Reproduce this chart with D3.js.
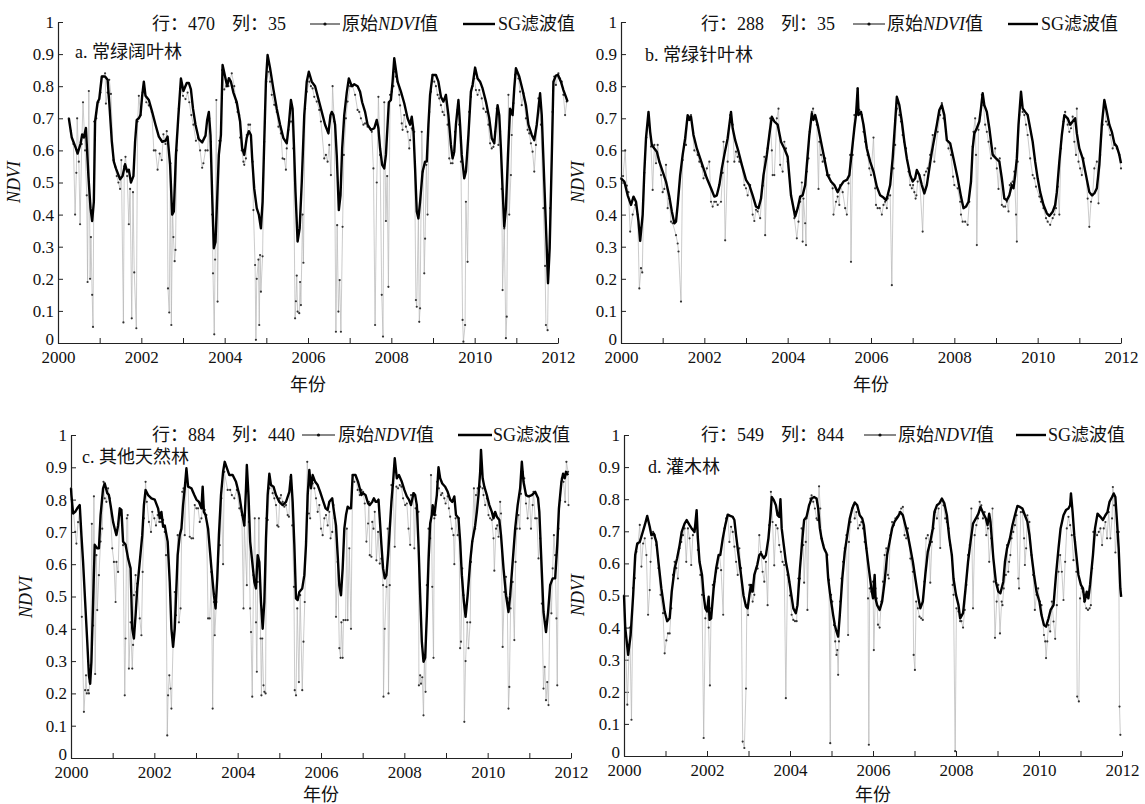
<!DOCTYPE html>
<html><head><meta charset="utf-8">
<script src="https://cdn.jsdelivr.net/npm/d3@7"></script>
<style>
body{margin:0;background:#fff}
text{font-family:"Liberation Serif","Times New Roman","Noto Sans CJK SC",serif;fill:#111}
</style>
</head><body>
<svg id="chart" width="1145" height="804"></svg>
<script>
// ---------------- data ----------------
const yearTicks = [2000,2001,2002,2003,2004,2005,2006,2007,2008,2009,2010,2011,2012];
const yearLabels = [2000,2002,2004,2006,2008,2010,2012];
const ndviTicks = [0,0.1,0.2,0.3,0.4,0.5,0.6,0.7,0.8,0.9,1];
const panelTitles = ["a. 常绿阔叶林","b. 常绿针叶林","c. 其他天然林","d. 灌木林"];
const rowIds = ["470","288","884","549"];
const colIds = ["35","35","440","844"];
const rawName = ["原始","NDVI","值"];
const sgName = "SG滤波值";
const xTitle = "年份";
const yTitle = "NDVI";

const rawA = [[2000.26,.70],[2000.31,.66],[2000.37,.62],[2000.41,.40],[2000.44,.53],[2000.46,.70],[2000.50,.565],[2000.53,.37],[2000.57,.62],[2000.60,.75],[2000.65,.60],[2000.69,.46],[2000.71,.19],[2000.74,.785],[2000.77,.20],[2000.79,.33],[2000.82,.15],[2000.84,.05],[2000.87,.69],[2000.92,.70],[2000.97,.75],[2001.02,.78],[2001.07,.83],[2001.13,.84],[2001.15,.746],[2001.19,.78],[2001.23,.82],[2001.27,.776],[2001.33,.57],[2001.37,.55],[2001.41,.52],[2001.45,.50],[2001.49,.48],[2001.52,.57],[2001.57,.064],[2001.59,.55],[2001.62,.58],[2001.66,.52],[2001.70,.37],[2001.73,.48],[2001.77,.077],[2001.80,.47],[2001.83,.22],[2001.88,.046],[2001.91,.69],[2001.94,.77],[2001.98,.71],[2002.03,.78],[2002.07,.79],[2002.12,.75],[2002.18,.74],[2002.25,.72],[2002.30,.60],[2002.34,.60],[2002.39,.54],[2002.44,.59],[2002.49,.57],[2002.53,.65],[2002.58,.62],[2002.61,.66],[2002.64,.17],[2002.67,.095],[2002.70,.56],[2002.72,.056],[2002.75,.42],[2002.77,.33],[2002.80,.255],[2002.82,.29],[2002.85,.60],[2002.90,.73],[2002.95,.80],[2003.00,.77],[2003.06,.76],[2003.11,.78],[2003.15,.75],[2003.20,.71],[2003.25,.68],[2003.31,.63],[2003.36,.64],[2003.41,.60],[2003.46,.546],[2003.49,.56],[2003.54,.60],[2003.59,.60],[2003.63,.70],[2003.67,.627],[2003.70,.40],[2003.72,.217],[2003.75,.027],[2003.77,.26],[2003.80,.757],[2003.83,.129],[2003.87,.63],[2003.90,.63],[2003.94,.85],[2003.99,.79],[2004.04,.80],[2004.09,.80],[2004.17,.84],[2004.23,.80],[2004.27,.75],[2004.31,.72],[2004.35,.71],[2004.37,.64],[2004.41,.60],[2004.45,.565],[2004.47,.555],[2004.51,.575],[2004.53,.648],[2004.57,.68],[2004.61,.68],[2004.67,.565],[2004.69,.414],[2004.73,.243],[2004.75,.01],[2004.77,.20],[2004.81,.26],[2004.83,.056],[2004.85,.274],[2004.87,.16],[2004.91,.27],[2004.95,.627],[2005.00,.814],[2005.05,.845],[2005.09,.814],[2005.13,.773],[2005.19,.742],[2005.25,.72],[2005.29,.674],[2005.35,.653],[2005.39,.575],[2005.43,.573],[2005.47,.54],[2005.49,.606],[2005.53,.664],[2005.58,.69],[2005.61,.69],[2005.65,.606],[2005.69,.077],[2005.71,.13],[2005.73,.21],[2005.75,.098],[2005.79,.093],[2005.81,.19],[2005.83,.118],[2005.87,.40],[2005.89,.25],[2005.93,.73],[2005.97,.783],[2006.03,.814],[2006.07,.80],[2006.11,.793],[2006.15,.767],[2006.21,.752],[2006.27,.726],[2006.31,.69],[2006.39,.575],[2006.43,.586],[2006.47,.565],[2006.51,.617],[2006.55,.523],[2006.59,.80],[2006.63,.69],[2006.67,.035],[2006.70,.367],[2006.73,.098],[2006.76,.196],[2006.79,.035],[2006.83,.362],[2006.86,.586],[2006.91,.70],[2006.95,.752],[2007.01,.80],[2007.07,.80],[2007.13,.773],[2007.19,.726],[2007.23,.72],[2007.27,.70],[2007.33,.68],[2007.37,.684],[2007.43,.674],[2007.49,.669],[2007.53,.658],[2007.57,.544],[2007.61,.056],[2007.65,.50],[2007.69,.767],[2007.73,.586],[2007.77,.15],[2007.80,.02],[2007.83,.75],[2007.87,.38],[2007.90,.52],[2007.93,.175],[2007.97,.773],[2008.01,.783],[2008.05,.80],[2008.09,.845],[2008.11,.83],[2008.15,.814],[2008.19,.773],[2008.21,.74],[2008.25,.684],[2008.27,.664],[2008.31,.71],[2008.35,.674],[2008.39,.658],[2008.43,.606],[2008.45,.632],[2008.49,.669],[2008.51,.664],[2008.55,.658],[2008.59,.134],[2008.61,.113],[2008.65,.40],[2008.67,.066],[2008.69,.108],[2008.73,.658],[2008.76,.534],[2008.79,.217],[2008.81,.325],[2008.84,.555],[2008.87,.40],[2008.91,.72],[2008.95,.783],[2008.99,.835],[2009.03,.814],[2009.07,.80],[2009.11,.773],[2009.15,.762],[2009.19,.741],[2009.23,.72],[2009.27,.71],[2009.31,.773],[2009.35,.68],[2009.39,.575],[2009.43,.56],[2009.47,.56],[2009.49,.586],[2009.53,.658],[2009.59,.726],[2009.63,.68],[2009.67,.565],[2009.71,.072],[2009.73,.004],[2009.77,.056],[2009.79,.44],[2009.83,.253],[2009.87,.72],[2009.91,.767],[2009.95,.80],[2009.99,.824],[2010.03,.788],[2010.07,.773],[2010.11,.788],[2010.17,.762],[2010.21,.73],[2010.27,.72],[2010.33,.68],[2010.37,.622],[2010.41,.606],[2010.45,.611],[2010.49,.658],[2010.53,.73],[2010.57,.617],[2010.61,.66],[2010.65,.48],[2010.67,.165],[2010.71,.357],[2010.75,.015],[2010.77,.082],[2010.81,.773],[2010.83,.40],[2010.87,.523],[2010.89,.648],[2010.93,.747],[2010.97,.835],[2011.01,.84],[2011.05,.824],[2011.09,.783],[2011.13,.741],[2011.17,.778],[2011.23,.70],[2011.27,.664],[2011.31,.653],[2011.35,.622],[2011.39,.596],[2011.43,.534],[2011.47,.617],[2011.53,.762],[2011.59,.68],[2011.65,.42],[2011.69,.24],[2011.71,.056],[2011.75,.04],[2011.77,.238],[2011.81,.42],[2011.87,.72],[2011.91,.83],[2011.95,.804],[2012.01,.84],[2012.05,.824],[2012.09,.814],[2012.13,.773],[2012.17,.71],[2012.21,.752]];

const sgA = [[2000.26,.70],[2000.33,.64],[2000.42,.61],[2000.47,.59],[2000.54,.62],[2000.58,.65],[2000.62,.64],[2000.67,.67],[2000.73,.52],[2000.78,.42],[2000.82,.38],[2000.86,.44],[2000.89,.69],[2000.95,.75],[2000.99,.76],[2001.05,.83],[2001.13,.83],[2001.19,.82],[2001.23,.75],[2001.29,.63],[2001.34,.565],[2001.39,.544],[2001.49,.51],[2001.55,.52],[2001.61,.557],[2001.66,.534],[2001.70,.54],[2001.75,.50],[2001.81,.52],[2001.85,.627],[2001.89,.695],[2001.94,.70],[2001.98,.71],[2002.02,.77],[2002.06,.814],[2002.10,.77],[2002.18,.757],[2002.26,.72],[2002.34,.68],[2002.42,.643],[2002.50,.627],[2002.58,.63],[2002.63,.643],[2002.69,.555],[2002.74,.40],[2002.78,.41],[2002.83,.586],[2002.89,.71],[2002.95,.824],[2003.01,.785],[2003.09,.81],[2003.14,.81],[2003.19,.79],[2003.24,.73],[2003.30,.68],[2003.38,.635],[2003.46,.625],[2003.54,.646],[2003.58,.695],[2003.62,.72],[2003.66,.648],[2003.70,.46],[2003.74,.295],[2003.78,.315],[2003.82,.45],[2003.86,.586],[2003.91,.648],[2003.95,.866],[2004.01,.83],[2004.06,.80],[2004.10,.825],[2004.15,.814],[2004.21,.78],[2004.29,.75],[2004.37,.69],[2004.42,.606],[2004.47,.586],[2004.53,.64],[2004.58,.66],[2004.63,.648],[2004.66,.575],[2004.71,.48],[2004.77,.42],[2004.82,.40],[2004.87,.357],[2004.91,.44],[2004.95,.627],[2004.99,.814],[2005.03,.897],[2005.09,.856],[2005.17,.79],[2005.25,.73],[2005.33,.68],[2005.41,.638],[2005.49,.622],[2005.54,.68],[2005.59,.757],[2005.63,.73],[2005.66,.627],[2005.70,.47],[2005.75,.316],[2005.80,.357],[2005.85,.50],[2005.91,.71],[2005.97,.814],[2006.02,.845],[2006.09,.814],[2006.17,.80],[2006.25,.76],[2006.33,.72],[2006.41,.68],[2006.49,.653],[2006.54,.71],[2006.57,.72],[2006.61,.71],[2006.65,.68],[2006.69,.585],[2006.74,.414],[2006.78,.46],[2006.82,.606],[2006.87,.71],[2006.93,.78],[2006.98,.824],[2007.05,.80],[2007.11,.806],[2007.19,.80],[2007.25,.783],[2007.30,.75],[2007.37,.72],[2007.43,.68],[2007.51,.664],[2007.59,.669],[2007.65,.695],[2007.69,.669],[2007.73,.606],[2007.78,.555],[2007.83,.544],[2007.87,.586],[2007.91,.68],[2007.94,.75],[2007.99,.757],[2008.03,.814],[2008.07,.887],[2008.15,.814],[2008.23,.783],[2008.31,.747],[2008.39,.70],[2008.45,.68],[2008.49,.705],[2008.53,.664],[2008.57,.544],[2008.61,.41],[2008.65,.388],[2008.69,.44],[2008.75,.534],[2008.81,.565],[2008.85,.565],[2008.89,.68],[2008.93,.773],[2008.99,.835],[2009.07,.835],[2009.13,.814],[2009.19,.767],[2009.25,.752],[2009.31,.773],[2009.37,.71],[2009.43,.617],[2009.47,.575],[2009.51,.596],[2009.55,.68],[2009.61,.757],[2009.65,.68],[2009.69,.586],[2009.75,.513],[2009.79,.534],[2009.85,.648],[2009.91,.783],[2009.95,.804],[2010.01,.858],[2010.07,.824],[2010.13,.814],[2010.19,.793],[2010.27,.752],[2010.35,.70],[2010.41,.638],[2010.47,.622],[2010.51,.68],[2010.55,.741],[2010.59,.71],[2010.63,.606],[2010.67,.48],[2010.71,.362],[2010.75,.42],[2010.80,.586],[2010.85,.73],[2010.91,.71],[2010.95,.793],[2010.99,.856],[2011.07,.83],[2011.15,.788],[2011.23,.741],[2011.29,.68],[2011.37,.648],[2011.43,.632],[2011.49,.68],[2011.57,.778],[2011.61,.71],[2011.67,.503],[2011.73,.295],[2011.76,.186],[2011.80,.295],[2011.85,.575],[2011.89,.814],[2011.95,.833],[2012.00,.835],[2012.07,.814],[2012.13,.788],[2012.19,.767],[2012.23,.752]];

const rawB = [[2000.00,.513],[2000.05,.52],[2000.10,.60],[2000.14,.49],[2000.18,.47],[2000.22,.347],[2000.28,.40],[2000.34,.43],[2000.40,.40],[2000.44,.17],[2000.48,.233],[2000.51,.22],[2000.56,.53],[2000.61,.64],[2000.66,.70],[2000.72,.612],[2000.76,.477],[2000.80,.617],[2000.84,.56],[2000.88,.617],[2000.92,.565],[2000.96,.523],[2001.00,.47],[2001.04,.48],[2001.08,.555],[2001.12,.42],[2001.16,.45],[2001.20,.378],[2001.24,.373],[2001.32,.336],[2001.36,.31],[2001.38,.285],[2001.44,.129],[2001.48,.57],[2001.52,.62],[2001.56,.617],[2001.60,.70],[2001.64,.705],[2001.68,.71],[2001.76,.60],[2001.84,.586],[2001.88,.565],[2001.94,.55],[2001.98,.513],[2002.02,.523],[2002.06,.544],[2002.12,.565],[2002.16,.44],[2002.20,.425],[2002.24,.44],[2002.28,.44],[2002.32,.43],[2002.40,.44],[2002.44,.53],[2002.46,.627],[2002.50,.32],[2002.56,.565],[2002.62,.71],[2002.68,.68],[2002.72,.565],[2002.76,.596],[2002.80,.58],[2002.84,.565],[2002.90,.555],[2002.96,.492],[2003.00,.482],[2003.04,.46],[2003.10,.492],[2003.16,.40],[2003.20,.38],[2003.24,.415],[2003.28,.41],[2003.34,.389],[2003.40,.49],[2003.44,.58],[2003.46,.336],[2003.52,.606],[2003.58,.70],[2003.62,.60],[2003.64,.523],[2003.68,.523],[2003.74,.70],[2003.78,.73],[2003.82,.555],[2003.88,.534],[2003.92,.627],[2003.96,.606],[2004.00,.565],[2004.08,.46],[2004.16,.389],[2004.22,.326],[2004.26,.378],[2004.30,.44],[2004.34,.50],[2004.36,.316],[2004.38,.45],[2004.42,.373],[2004.44,.305],[2004.46,.534],[2004.50,.575],[2004.53,.658],[2004.58,.72],[2004.61,.73],[2004.66,.70],[2004.70,.68],[2004.74,.48],[2004.76,.627],[2004.80,.586],[2004.84,.565],[2004.90,.575],[2004.94,.523],[2005.00,.523],[2005.04,.503],[2005.08,.482],[2005.10,.40],[2005.16,.44],[2005.20,.456],[2005.24,.43],[2005.26,.492],[2005.32,.47],[2005.38,.42],[2005.42,.40],[2005.46,.497],[2005.50,.586],[2005.52,.253],[2005.56,.586],[2005.60,.71],[2005.64,.715],[2005.68,.793],[2005.72,.726],[2005.78,.71],[2005.82,.658],[2005.86,.627],[2005.92,.586],[2005.96,.544],[2006.00,.523],[2006.06,.64],[2006.10,.482],[2006.12,.43],[2006.16,.42],[2006.21,.42],[2006.26,.40],[2006.30,.43],[2006.34,.44],[2006.38,.42],[2006.40,.45],[2006.46,.46],[2006.50,.18],[2006.54,.544],[2006.58,.617],[2006.62,.73],[2006.68,.71],[2006.72,.69],[2006.76,.648],[2006.80,.627],[2006.84,.606],[2006.90,.534],[2006.94,.492],[2006.98,.482],[2007.01,.492],[2007.04,.47],[2007.07,.45],[2007.09,.46],[2007.12,.503],[2007.16,.523],[2007.24,.347],[2007.28,.523],[2007.32,.534],[2007.36,.544],[2007.42,.586],[2007.48,.648],[2007.52,.565],[2007.60,.658],[2007.66,.71],[2007.70,.747],[2007.74,.70],[2007.80,.658],[2007.86,.606],[2007.92,.586],[2007.97,.518],[2008.00,.492],[2008.08,.482],[2008.14,.44],[2008.16,.40],[2008.20,.378],[2008.26,.378],[2008.32,.368],[2008.36,.44],[2008.40,.503],[2008.44,.612],[2008.46,.658],[2008.50,.70],[2008.52,.586],[2008.54,.305],[2008.58,.664],[2008.62,.71],[2008.66,.773],[2008.70,.741],[2008.74,.68],[2008.78,.658],[2008.82,.627],[2008.88,.575],[2008.94,.586],[2008.98,.606],[2009.02,.544],[2009.06,.48],[2009.09,.575],[2009.14,.43],[2009.18,.425],[2009.22,.425],[2009.26,.44],[2009.30,.41],[2009.33,.492],[2009.36,.497],[2009.40,.503],[2009.44,.534],[2009.48,.40],[2009.50,.316],[2009.52,.565],[2009.56,.71],[2009.60,.773],[2009.64,.72],[2009.68,.71],[2009.72,.68],[2009.76,.648],[2009.82,.575],[2009.88,.523],[2009.92,.513],[2009.96,.487],[2010.04,.456],[2010.08,.44],[2010.14,.42],[2010.20,.389],[2010.24,.378],[2010.30,.368],[2010.36,.389],[2010.40,.40],[2010.44,.42],[2010.48,.487],[2010.52,.40],[2010.56,.606],[2010.62,.69],[2010.66,.72],[2010.72,.68],[2010.76,.658],[2010.80,.669],[2010.84,.705],[2010.88,.627],[2010.92,.586],[2010.94,.73],[2010.98,.565],[2011.02,.544],[2011.06,.523],[2011.10,.575],[2011.16,.523],[2011.20,.45],[2011.24,.362],[2011.28,.44],[2011.32,.46],[2011.36,.544],[2011.42,.565],[2011.46,.435],[2011.50,.586],[2011.56,.68],[2011.60,.752],[2011.64,.69],[2011.68,.68],[2011.74,.648],[2011.80,.606],[2011.84,.617],[2011.90,.606],[2011.96,.586],[2012.00,.544]];

const sgB = [[2000.00,.513],[2000.08,.503],[2000.16,.46],[2000.24,.43],[2000.30,.456],[2000.36,.44],[2000.42,.378],[2000.46,.318],[2000.52,.40],[2000.56,.534],[2000.60,.638],[2000.66,.72],[2000.70,.658],[2000.74,.617],[2000.80,.606],[2000.86,.596],[2000.92,.565],[2001.00,.534],[2001.08,.503],[2001.16,.456],[2001.22,.41],[2001.28,.373],[2001.32,.378],[2001.36,.43],[2001.42,.523],[2001.48,.586],[2001.54,.638],[2001.60,.71],[2001.64,.695],[2001.68,.705],[2001.74,.648],[2001.82,.606],[2001.90,.575],[2001.98,.544],[2002.06,.513],[2002.16,.482],[2002.24,.456],[2002.30,.46],[2002.36,.492],[2002.42,.544],[2002.48,.586],[2002.56,.638],[2002.64,.72],[2002.68,.669],[2002.74,.632],[2002.82,.596],[2002.90,.555],[2003.00,.508],[2003.08,.492],[2003.16,.46],[2003.24,.425],[2003.30,.42],[2003.36,.45],[2003.42,.523],[2003.50,.586],[2003.56,.648],[2003.62,.705],[2003.68,.69],[2003.76,.68],[2003.84,.627],[2003.92,.606],[2004.00,.58],[2004.08,.46],[2004.18,.394],[2004.24,.42],[2004.30,.456],[2004.36,.46],[2004.42,.492],[2004.46,.555],[2004.52,.648],[2004.58,.715],[2004.62,.695],[2004.66,.71],[2004.72,.68],[2004.80,.627],[2004.88,.575],[2004.96,.523],[2005.04,.503],[2005.12,.492],[2005.20,.47],[2005.26,.487],[2005.34,.503],[2005.42,.508],[2005.48,.523],[2005.54,.596],[2005.60,.669],[2005.64,.71],[2005.68,.793],[2005.70,.71],[2005.76,.72],[2005.82,.68],[2005.90,.606],[2005.98,.565],[2006.06,.534],[2006.14,.487],[2006.22,.46],[2006.30,.453],[2006.36,.445],[2006.40,.46],[2006.46,.492],[2006.52,.575],[2006.58,.69],[2006.62,.767],[2006.68,.741],[2006.74,.69],[2006.80,.627],[2006.86,.575],[2006.94,.523],[2007.00,.503],[2007.06,.513],[2007.10,.539],[2007.16,.523],[2007.22,.492],[2007.28,.466],[2007.34,.492],[2007.40,.544],[2007.46,.596],[2007.52,.638],[2007.58,.68],[2007.64,.726],[2007.70,.741],[2007.76,.71],[2007.82,.632],[2007.90,.622],[2007.98,.575],[2008.08,.513],[2008.16,.456],[2008.22,.42],[2008.28,.425],[2008.34,.44],[2008.40,.503],[2008.44,.606],[2008.48,.653],[2008.54,.669],[2008.60,.69],[2008.64,.731],[2008.68,.778],[2008.72,.741],[2008.78,.72],[2008.84,.669],[2008.92,.586],[2009.00,.575],[2009.08,.565],[2009.14,.513],[2009.20,.45],[2009.26,.445],[2009.32,.46],[2009.38,.492],[2009.42,.482],[2009.46,.523],[2009.50,.575],[2009.54,.68],[2009.60,.783],[2009.64,.731],[2009.70,.72],[2009.76,.71],[2009.82,.669],[2009.88,.627],[2009.94,.565],[2010.00,.513],[2010.06,.47],[2010.14,.43],[2010.22,.404],[2010.28,.396],[2010.36,.409],[2010.42,.43],[2010.46,.47],[2010.52,.565],[2010.58,.648],[2010.64,.71],[2010.72,.70],[2010.78,.68],[2010.84,.69],[2010.90,.70],[2010.94,.653],[2011.00,.606],[2011.08,.575],[2011.16,.523],[2011.24,.47],[2011.30,.46],[2011.36,.466],[2011.42,.482],[2011.48,.555],[2011.54,.68],[2011.60,.757],[2011.66,.72],[2011.72,.68],[2011.78,.658],[2011.84,.622],[2011.90,.612],[2011.96,.586],[2012.00,.56]];

const rawC = [[2000.00,.835],[2000.02,.80],[2000.06,.762],[2000.10,.70],[2000.13,.664],[2000.17,.73],[2000.21,.773],[2000.26,.437],[2000.31,.143],[2000.34,.21],[2000.36,.256],[2000.38,.20],[2000.41,.21],[2000.43,.20],[2000.45,.235],[2000.47,.287],[2000.50,.725],[2000.53,.41],[2000.55,.81],[2000.58,.26],[2000.61,.628],[2000.63,.458],[2000.67,.566],[2000.71,.67],[2000.75,.71],[2000.78,.855],[2000.81,.804],[2000.85,.793],[2000.89,.835],[2000.93,.804],[2000.99,.649],[2001.03,.607],[2001.07,.483],[2001.09,.607],[2001.13,.576],[2001.17,.757],[2001.20,.752],[2001.25,.659],[2001.29,.194],[2001.31,.37],[2001.34,.742],[2001.36,.752],[2001.39,.277],[2001.43,.42],[2001.47,.277],[2001.49,.35],[2001.51,.504],[2001.55,.566],[2001.57,.514],[2001.59,.54],[2001.65,.432],[2001.69,.38],[2001.72,.576],[2001.75,.742],[2001.79,.855],[2001.82,.793],[2001.87,.731],[2001.92,.70],[2001.95,.762],[2002.00,.742],[2002.04,.72],[2002.08,.752],[2002.12,.731],[2002.16,.731],[2002.21,.737],[2002.25,.70],[2002.28,.628],[2002.31,.07],[2002.33,.194],[2002.36,.256],[2002.39,.215],[2002.41,.153],[2002.45,.35],[2002.49,.514],[2002.52,.442],[2002.56,.69],[2002.59,.42],[2002.63,.463],[2002.67,.824],[2002.70,.835],[2002.73,.69],[2002.77,.886],[2002.81,.845],[2002.85,.685],[2002.89,.68],[2002.93,.68],[2002.97,.783],[2003.01,.773],[2003.05,.773],[2003.09,.731],[2003.13,.742],[2003.17,.793],[2003.21,.768],[2003.25,.752],[2003.29,.432],[2003.33,.432],[2003.37,.576],[2003.40,.153],[2003.43,.483],[2003.45,.38],[2003.49,.483],[2003.53,.607],[2003.57,.659],[2003.61,.804],[2003.65,.60],[2003.68,.886],[2003.76,.83],[2003.82,.83],[2003.86,.814],[2003.92,.804],[2003.98,.83],[2004.04,.773],[2004.10,.752],[2004.14,.463],[2004.16,.72],[2004.22,.535],[2004.24,.83],[2004.27,.731],[2004.30,.463],[2004.32,.39],[2004.35,.19],[2004.38,.566],[2004.41,.742],[2004.44,.42],[2004.46,.267],[2004.48,.545],[2004.51,.742],[2004.55,.37],[2004.57,.194],[2004.59,.37],[2004.62,.225],[2004.64,.205],[2004.67,.20],[2004.69,.742],[2004.72,.737],[2004.76,.835],[2004.80,.845],[2004.84,.82],[2004.88,.804],[2004.92,.783],[2004.95,.72],[2004.98,.716],[2005.01,.804],[2005.04,.814],[2005.08,.793],[2005.12,.778],[2005.16,.783],[2005.20,.752],[2005.23,.747],[2005.27,.87],[2005.31,.72],[2005.35,.53],[2005.37,.21],[2005.40,.194],[2005.43,.463],[2005.47,.235],[2005.50,.504],[2005.55,.21],[2005.58,.36],[2005.61,.483],[2005.64,.67],[2005.67,.917],[2005.71,.757],[2005.74,.742],[2005.77,.855],[2005.80,.85],[2005.84,.835],[2005.88,.804],[2005.92,.762],[2005.96,.783],[2006.00,.71],[2006.04,.69],[2006.08,.742],[2006.12,.752],[2006.16,.72],[2006.20,.762],[2006.23,.68],[2006.27,.70],[2006.30,.783],[2006.33,.742],[2006.36,.437],[2006.40,.607],[2006.44,.34],[2006.47,.31],[2006.49,.42],[2006.52,.31],[2006.54,.427],[2006.59,.427],[2006.62,.71],[2006.64,.427],[2006.68,.649],[2006.72,.40],[2006.76,.876],[2006.80,.855],[2006.84,.87],[2006.88,.83],[2006.93,.814],[2006.97,.83],[2007.01,.824],[2007.05,.788],[2007.09,.67],[2007.13,.726],[2007.15,.793],[2007.17,.628],[2007.21,.623],[2007.23,.731],[2007.26,.71],[2007.29,.762],[2007.33,.612],[2007.37,.70],[2007.41,.602],[2007.45,.617],[2007.49,.535],[2007.50,.19],[2007.53,.40],[2007.57,.53],[2007.60,.71],[2007.62,.20],[2007.65,.535],[2007.69,.845],[2007.73,.85],[2007.77,.654],[2007.81,.84],[2007.85,.835],[2007.89,.845],[2007.93,.84],[2007.97,.804],[2008.02,.783],[2008.06,.788],[2008.10,.71],[2008.14,.66],[2008.16,.814],[2008.19,.814],[2008.22,.82],[2008.24,.649],[2008.27,.773],[2008.30,.783],[2008.34,.762],[2008.35,.225],[2008.38,.256],[2008.40,.23],[2008.43,.25],[2008.46,.132],[2008.48,.307],[2008.51,.205],[2008.54,.535],[2008.58,.71],[2008.62,.68],[2008.64,.876],[2008.67,.53],[2008.70,.31],[2008.72,.742],[2008.75,.752],[2008.79,.855],[2008.83,.835],[2008.88,.814],[2008.91,.82],[2008.96,.804],[2008.99,.788],[2009.04,.81],[2009.07,.773],[2009.10,.747],[2009.14,.71],[2009.18,.69],[2009.20,.60],[2009.23,.742],[2009.28,.69],[2009.31,.742],[2009.34,.34],[2009.36,.36],[2009.39,.587],[2009.42,.504],[2009.44,.112],[2009.47,.30],[2009.51,.42],[2009.54,.34],[2009.58,.42],[2009.60,.607],[2009.63,.67],[2009.67,.835],[2009.70,.71],[2009.72,.814],[2009.76,.835],[2009.82,.84],[2009.88,.835],[2009.90,.814],[2009.94,.783],[2009.98,.804],[2010.02,.752],[2010.06,.742],[2010.10,.737],[2010.14,.68],[2010.16,.58],[2010.20,.71],[2010.23,.72],[2010.26,.685],[2010.30,.793],[2010.32,.757],[2010.36,.344],[2010.40,.514],[2010.44,.561],[2010.47,.494],[2010.50,.153],[2010.52,.22],[2010.55,.463],[2010.60,.545],[2010.64,.365],[2010.67,.607],[2010.70,.71],[2010.74,.752],[2010.77,.71],[2010.80,.818],[2010.84,.886],[2010.88,.866],[2010.92,.788],[2010.96,.742],[2011.00,.81],[2011.04,.71],[2011.08,.783],[2011.10,.824],[2011.14,.742],[2011.18,.742],[2011.22,.618],[2011.26,.68],[2011.30,.478],[2011.34,.215],[2011.37,.282],[2011.40,.179],[2011.43,.235],[2011.46,.164],[2011.50,.535],[2011.53,.448],[2011.56,.587],[2011.59,.69],[2011.62,.628],[2011.65,.432],[2011.67,.225],[2011.70,.71],[2011.74,.798],[2011.78,.866],[2011.82,.855],[2011.86,.793],[2011.89,.917],[2011.93,.886],[2011.94,.783]];

const sgC = [[2000.00,.835],[2000.01,.814],[2000.05,.757],[2000.10,.762],[2000.15,.773],[2000.21,.783],[2000.25,.69],[2000.29,.607],[2000.34,.483],[2000.39,.36],[2000.43,.256],[2000.46,.23],[2000.49,.298],[2000.53,.483],[2000.57,.66],[2000.63,.649],[2000.67,.649],[2000.71,.752],[2000.77,.835],[2000.81,.85],[2000.87,.82],[2000.91,.814],[2000.95,.783],[2001.01,.731],[2001.05,.71],[2001.09,.69],[2001.13,.72],[2001.17,.773],[2001.21,.768],[2001.25,.67],[2001.31,.66],[2001.37,.618],[2001.43,.587],[2001.47,.40],[2001.51,.37],[2001.55,.442],[2001.59,.525],[2001.65,.607],[2001.71,.69],[2001.75,.783],[2001.79,.83],[2001.85,.814],[2001.93,.804],[2002.01,.80],[2002.09,.773],[2002.13,.742],[2002.17,.762],[2002.21,.716],[2002.25,.72],[2002.32,.67],[2002.37,.545],[2002.41,.40],[2002.45,.344],[2002.49,.40],[2002.56,.628],[2002.61,.69],[2002.65,.71],[2002.69,.783],[2002.73,.835],[2002.77,.897],[2002.81,.84],[2002.89,.835],[2002.96,.814],[2003.01,.80],[2003.07,.793],[2003.13,.773],[2003.16,.84],[2003.19,.762],[2003.23,.752],[2003.29,.71],[2003.33,.649],[2003.37,.587],[2003.43,.504],[2003.47,.463],[2003.51,.556],[2003.55,.69],[2003.60,.814],[2003.65,.886],[2003.69,.917],[2003.80,.876],[2003.88,.876],[2003.96,.855],[2004.04,.814],[2004.10,.762],[2004.16,.72],[2004.20,.835],[2004.22,.907],[2004.26,.814],[2004.30,.67],[2004.35,.607],[2004.40,.545],[2004.44,.525],[2004.48,.628],[2004.52,.607],[2004.56,.483],[2004.60,.40],[2004.64,.483],[2004.68,.68],[2004.72,.814],[2004.76,.88],[2004.80,.845],[2004.86,.84],[2004.92,.814],[2005.00,.793],[2005.08,.783],[2005.16,.793],[2005.24,.824],[2005.28,.876],[2005.32,.793],[2005.36,.66],[2005.40,.494],[2005.44,.489],[2005.48,.514],[2005.55,.525],[2005.60,.566],[2005.64,.66],[2005.68,.814],[2005.72,.892],[2005.76,.835],[2005.80,.876],[2005.86,.855],[2005.92,.845],[2005.98,.824],[2006.04,.80],[2006.11,.773],[2006.16,.768],[2006.20,.793],[2006.27,.804],[2006.30,.773],[2006.36,.72],[2006.40,.628],[2006.44,.535],[2006.48,.504],[2006.52,.587],[2006.56,.71],[2006.60,.752],[2006.64,.778],[2006.68,.773],[2006.72,.773],[2006.76,.876],[2006.83,.876],[2006.89,.855],[2006.93,.835],[2006.97,.814],[2007.01,.82],[2007.07,.814],[2007.13,.788],[2007.17,.783],[2007.23,.793],[2007.27,.804],[2007.31,.793],[2007.34,.793],[2007.38,.80],[2007.41,.742],[2007.45,.66],[2007.49,.587],[2007.53,.556],[2007.57,.566],[2007.61,.628],[2007.65,.71],[2007.69,.793],[2007.73,.855],[2007.77,.928],[2007.82,.866],[2007.87,.876],[2007.94,.855],[2008.00,.83],[2008.06,.81],[2008.11,.80],[2008.16,.783],[2008.22,.82],[2008.26,.814],[2008.30,.783],[2008.34,.66],[2008.38,.504],[2008.42,.36],[2008.46,.298],[2008.50,.31],[2008.54,.442],[2008.58,.607],[2008.62,.726],[2008.66,.752],[2008.68,.783],[2008.72,.752],[2008.78,.814],[2008.82,.90],[2008.86,.866],[2008.91,.85],[2008.98,.84],[2009.04,.824],[2009.10,.80],[2009.15,.793],[2009.20,.81],[2009.24,.752],[2009.30,.742],[2009.34,.67],[2009.38,.566],[2009.43,.483],[2009.47,.437],[2009.52,.504],[2009.58,.607],[2009.63,.67],[2009.70,.72],[2009.74,.762],[2009.78,.814],[2009.82,.886],[2009.84,.954],[2009.88,.866],[2009.92,.84],[2009.98,.814],[2010.04,.783],[2010.10,.762],[2010.14,.742],[2010.18,.762],[2010.22,.747],[2010.28,.737],[2010.32,.69],[2010.38,.587],[2010.44,.504],[2010.50,.452],[2010.54,.504],[2010.60,.607],[2010.66,.71],[2010.72,.783],[2010.78,.835],[2010.82,.917],[2010.86,.855],[2010.92,.814],[2010.98,.81],[2011.06,.814],[2011.14,.824],[2011.21,.804],[2011.24,.762],[2011.29,.607],[2011.34,.452],[2011.40,.39],[2011.45,.452],[2011.50,.535],[2011.56,.556],[2011.62,.556],[2011.67,.66],[2011.71,.773],[2011.77,.855],[2011.81,.88],[2011.85,.866],[2011.88,.886],[2011.93,.876]];

const rawD = [[2000.00,.50],[2000.03,.40],[2000.08,.16],[2000.14,.40],[2000.18,.113],[2000.22,.523],[2000.26,.554],[2000.30,.636],[2000.34,.662],[2000.38,.72],[2000.42,.59],[2000.46,.662],[2000.50,.678],[2000.54,.626],[2000.58,.44],[2000.62,.517],[2000.64,.605],[2000.67,.678],[2000.70,.698],[2000.74,.688],[2000.78,.657],[2000.83,.585],[2000.88,.502],[2000.94,.445],[2000.98,.32],[2001.02,.36],[2001.06,.382],[2001.10,.382],[2001.14,.46],[2001.18,.564],[2001.22,.605],[2001.26,.585],[2001.30,.553],[2001.34,.647],[2001.38,.667],[2001.42,.688],[2001.46,.709],[2001.50,.605],[2001.54,.709],[2001.58,.678],[2001.62,.595],[2001.66,.688],[2001.70,.709],[2001.75,.709],[2001.78,.642],[2001.84,.564],[2001.88,.502],[2001.92,.056],[2001.96,.429],[2002.00,.46],[2002.04,.40],[2002.07,.22],[2002.10,.46],[2002.14,.533],[2002.18,.543],[2002.22,.574],[2002.26,.585],[2002.30,.626],[2002.34,.579],[2002.39,.44],[2002.42,.709],[2002.46,.74],[2002.50,.75],[2002.54,.667],[2002.58,.714],[2002.62,.698],[2002.66,.652],[2002.70,.605],[2002.74,.564],[2002.78,.647],[2002.82,.585],[2002.86,.045],[2002.90,.025],[2002.94,.21],[2002.96,.47],[2002.99,.439],[2003.02,.533],[2003.06,.512],[2003.10,.481],[2003.14,.502],[2003.18,.584],[2003.22,.584],[2003.26,.688],[2003.30,.636],[2003.34,.574],[2003.38,.543],[2003.42,.605],[2003.46,.47],[2003.50,.719],[2003.54,.823],[2003.58,.729],[2003.62,.594],[2003.66,.719],[2003.70,.709],[2003.74,.657],[2003.78,.636],[2003.82,.605],[2003.86,.595],[2003.90,.18],[2003.94,.564],[2003.98,.543],[2004.00,.50],[2004.04,.44],[2004.08,.424],[2004.12,.42],[2004.16,.42],[2004.20,.553],[2004.24,.553],[2004.28,.709],[2004.32,.657],[2004.34,.54],[2004.38,.667],[2004.40,.74],[2004.42,.455],[2004.46,.781],[2004.49,.802],[2004.52,.812],[2004.56,.792],[2004.60,.771],[2004.64,.74],[2004.66,.735],[2004.70,.84],[2004.73,.771],[2004.76,.678],[2004.80,.657],[2004.84,.641],[2004.90,.626],[2004.94,.548],[2004.97,.04],[2004.99,.502],[2005.02,.481],[2005.06,.408],[2005.09,.357],[2005.12,.315],[2005.14,.33],[2005.16,.253],[2005.18,.357],[2005.21,.481],[2005.24,.553],[2005.28,.605],[2005.32,.647],[2005.36,.688],[2005.40,.377],[2005.42,.667],[2005.46,.729],[2005.50,.771],[2005.53,.781],[2005.56,.74],[2005.60,.76],[2005.64,.709],[2005.68,.719],[2005.72,.729],[2005.76,.709],[2005.80,.667],[2005.84,.647],[2005.88,.491],[2005.90,.035],[2005.92,.522],[2005.96,.512],[2006.00,.543],[2006.02,.33],[2006.06,.522],[2006.09,.491],[2006.12,.409],[2006.16,.40],[2006.20,.481],[2006.24,.543],[2006.28,.626],[2006.32,.647],[2006.36,.564],[2006.38,.553],[2006.42,.688],[2006.46,.729],[2006.50,.719],[2006.54,.74],[2006.58,.745],[2006.64,.76],[2006.68,.771],[2006.72,.776],[2006.76,.688],[2006.80,.678],[2006.84,.709],[2006.90,.615],[2006.96,.574],[2006.98,.315],[2007.01,.268],[2007.04,.481],[2007.08,.46],[2007.12,.434],[2007.16,.429],[2007.20,.424],[2007.24,.543],[2007.28,.678],[2007.32,.688],[2007.36,.657],[2007.38,.54],[2007.42,.667],[2007.46,.709],[2007.50,.76],[2007.54,.74],[2007.58,.771],[2007.62,.648],[2007.66,.797],[2007.70,.781],[2007.74,.74],[2007.78,.729],[2007.82,.709],[2007.86,.657],[2007.90,.626],[2007.92,.533],[2007.94,.502],[2007.98,.015],[2008.01,.46],[2008.06,.45],[2008.10,.42],[2008.13,.42],[2008.17,.40],[2008.21,.455],[2008.25,.533],[2008.29,.626],[2008.33,.657],[2008.37,.771],[2008.41,.46],[2008.45,.688],[2008.49,.719],[2008.53,.74],[2008.57,.792],[2008.61,.781],[2008.65,.74],[2008.69,.76],[2008.73,.688],[2008.77,.709],[2008.80,.605],[2008.85,.678],[2008.88,.771],[2008.91,.543],[2008.94,.368],[2008.98,.481],[2009.02,.533],[2009.06,.382],[2009.10,.481],[2009.12,.47],[2009.15,.522],[2009.20,.564],[2009.23,.657],[2009.26,.574],[2009.28,.605],[2009.31,.626],[2009.34,.678],[2009.38,.698],[2009.42,.719],[2009.46,.75],[2009.50,.553],[2009.52,.522],[2009.56,.76],[2009.60,.76],[2009.64,.678],[2009.66,.595],[2009.69,.647],[2009.72,.75],[2009.77,.729],[2009.82,.626],[2009.86,.564],[2009.90,.455],[2009.94,.502],[2009.98,.522],[2010.02,.481],[2010.06,.47],[2010.12,.377],[2010.15,.357],[2010.17,.305],[2010.20,.357],[2010.23,.408],[2010.27,.388],[2010.31,.481],[2010.35,.419],[2010.39,.365],[2010.43,.47],[2010.47,.574],[2010.51,.626],[2010.55,.574],[2010.59,.486],[2010.63,.605],[2010.67,.709],[2010.71,.745],[2010.75,.719],[2010.79,.688],[2010.83,.61],[2010.87,.667],[2010.90,.574],[2010.92,.185],[2010.96,.17],[2010.99,.491],[2011.03,.522],[2011.06,.512],[2011.09,.481],[2011.14,.46],[2011.18,.455],[2011.22,.46],[2011.25,.47],[2011.28,.585],[2011.31,.698],[2011.35,.709],[2011.40,.688],[2011.44,.698],[2011.48,.709],[2011.52,.657],[2011.56,.709],[2011.60,.729],[2011.64,.678],[2011.68,.76],[2011.72,.678],[2011.76,.74],[2011.78,.838],[2011.81,.781],[2011.84,.634],[2011.88,.698],[2011.92,.698],[2011.94,.154],[2011.96,.066]];

const sgD = [[2000.00,.50],[2000.03,.40],[2000.10,.315],[2000.16,.377],[2000.22,.50],[2000.27,.626],[2000.32,.662],[2000.38,.667],[2000.43,.688],[2000.50,.719],[2000.56,.748],[2000.62,.714],[2000.66,.688],[2000.72,.693],[2000.78,.667],[2000.83,.605],[2000.90,.522],[2000.98,.45],[2001.04,.42],[2001.10,.429],[2001.15,.512],[2001.22,.584],[2001.28,.616],[2001.34,.657],[2001.39,.698],[2001.46,.724],[2001.51,.735],[2001.58,.719],[2001.63,.709],[2001.70,.698],[2001.75,.766],[2001.78,.678],[2001.82,.605],[2001.88,.564],[2001.92,.50],[2001.96,.46],[2002.00,.45],[2002.04,.496],[2002.06,.424],[2002.10,.429],[2002.16,.522],[2002.22,.584],[2002.28,.626],[2002.32,.626],[2002.38,.678],[2002.44,.719],[2002.50,.752],[2002.56,.748],[2002.62,.745],[2002.66,.735],[2002.70,.688],[2002.76,.626],[2002.82,.564],[2002.88,.50],[2002.94,.465],[2002.98,.46],[2003.02,.50],[2003.06,.533],[2003.10,.512],[2003.14,.564],[2003.21,.595],[2003.26,.626],[2003.30,.631],[2003.37,.616],[2003.42,.626],[2003.48,.678],[2003.53,.75],[2003.56,.807],[2003.61,.797],[2003.66,.781],[2003.70,.75],[2003.74,.745],[2003.77,.80],[2003.80,.709],[2003.85,.657],[2003.90,.605],[2003.96,.564],[2004.02,.512],[2004.08,.46],[2004.14,.445],[2004.18,.47],[2004.24,.584],[2004.30,.678],[2004.34,.735],[2004.40,.745],[2004.46,.781],[2004.52,.802],[2004.58,.807],[2004.64,.802],[2004.68,.771],[2004.72,.709],[2004.76,.678],[2004.82,.647],[2004.88,.631],[2004.92,.553],[2004.98,.491],[2005.04,.439],[2005.08,.408],[2005.12,.388],[2005.16,.372],[2005.20,.439],[2005.26,.553],[2005.32,.636],[2005.38,.688],[2005.44,.74],[2005.50,.771],[2005.56,.79],[2005.62,.781],[2005.68,.75],[2005.74,.74],[2005.78,.719],[2005.84,.647],[2005.90,.584],[2005.96,.522],[2006.00,.491],[2006.04,.564],[2006.06,.491],[2006.10,.47],[2006.16,.455],[2006.22,.481],[2006.28,.543],[2006.34,.626],[2006.40,.667],[2006.46,.709],[2006.52,.73],[2006.60,.745],[2006.66,.76],[2006.72,.75],[2006.78,.719],[2006.84,.688],[2006.90,.647],[2006.96,.605],[2007.02,.553],[2007.08,.502],[2007.14,.46],[2007.20,.481],[2007.26,.564],[2007.32,.636],[2007.38,.667],[2007.44,.709],[2007.48,.76],[2007.54,.781],[2007.60,.787],[2007.66,.802],[2007.72,.787],[2007.78,.75],[2007.84,.678],[2007.90,.626],[2007.94,.553],[2008.00,.502],[2008.06,.47],[2008.10,.429],[2008.17,.445],[2008.23,.522],[2008.29,.605],[2008.35,.667],[2008.41,.724],[2008.48,.74],[2008.54,.755],[2008.59,.776],[2008.66,.755],[2008.72,.74],[2008.76,.719],[2008.80,.755],[2008.83,.73],[2008.90,.616],[2008.96,.543],[2009.02,.512],[2009.07,.507],[2009.14,.543],[2009.18,.605],[2009.23,.647],[2009.30,.678],[2009.36,.719],[2009.42,.75],[2009.48,.779],[2009.54,.776],[2009.60,.771],[2009.66,.75],[2009.72,.73],[2009.77,.688],[2009.82,.626],[2009.88,.564],[2009.94,.512],[2010.01,.481],[2010.06,.439],[2010.12,.408],[2010.17,.403],[2010.23,.429],[2010.28,.455],[2010.35,.47],[2010.41,.564],[2010.47,.647],[2010.52,.709],[2010.59,.75],[2010.65,.766],[2010.71,.771],[2010.75,.781],[2010.77,.818],[2010.81,.76],[2010.85,.688],[2010.90,.626],[2010.95,.564],[2011.01,.533],[2011.06,.522],[2011.10,.481],[2011.15,.512],[2011.19,.491],[2011.23,.533],[2011.30,.626],[2011.35,.709],[2011.41,.755],[2011.48,.745],[2011.54,.735],[2011.60,.75],[2011.65,.76],[2011.70,.792],[2011.76,.807],[2011.80,.818],[2011.84,.807],[2011.88,.73],[2011.92,.647],[2011.96,.522],[2011.98,.496]];

// ---------------- layout ----------------
const panels = [
  {raw: rawA, sg: sgA, x0: 58,  x1: 558,  yb: 343, yt: 22,  lx: 152, ly: 30,  lo: [80,158,188,190,311,343,346], tx: 75,  ty: 58,  ytx: 20,  yty: 182, xty: 391},
  {raw: rawB, sg: sgB, x0: 621, x1: 1121, yb: 343, yt: 22,  lx: 701, ly: 30,  lo: [80,152,184,186,307,337,340], tx: 645, ty: 61,  ytx: 584, yty: 182, xty: 391},
  {raw: rawC, sg: sgC, x0: 71,  x1: 571,  yb: 758, yt: 435, lx: 152, ly: 441, lo: [80,150,183,186,306,340,341], tx: 82,  ty: 463, ytx: 32,  yty: 597, xty: 801},
  {raw: rawD, sg: sgD, x0: 624, x1: 1122, yb: 756, yt: 435, lx: 701, ly: 441, lo: [80,163,195,197,315,345,347], tx: 648, ty: 473, ytx: 584, yty: 595, xty: 801}
];

const svg = d3.select("#chart");
svg.append("rect").attr("width",1145).attr("height",804).attr("fill","#fff");

panels.forEach((p, i) => {
  const x = d3.scaleLinear().domain([2000, 2012]).range([p.x0, p.x1]);
  const y = d3.scaleLinear().domain([0, 1]).range([p.yb, p.yt]);
  const g = svg.append("g");

  // axes
  const xa = d3.axisBottom(x).tickValues(yearTicks).tickSize(-5).tickSizeOuter(0).tickPadding(8)
      .tickFormat(d => yearLabels.includes(d) ? String(d) : "");
  const ya = d3.axisLeft(y).tickValues(ndviTicks).tickSize(-5).tickSizeOuter(0).tickPadding(4)
      .tickFormat(d => d === 0 ? "0" : d === 1 ? "1" : d3.format(".1f")(d));
  const gx = g.append("g").attr("transform", `translate(0,${p.yb})`).call(xa);
  const gy = g.append("g").attr("transform", `translate(${p.x0},0)`).call(ya);
  [gx, gy].forEach(a => {
    a.selectAll("path").attr("stroke", "#222").attr("stroke-width", 1.2);
    a.selectAll("line").attr("stroke", "#222").attr("stroke-width", 1);
    a.selectAll("text").attr("font-size", 17).attr("fill", "#111");
  });
  gy.selectAll(".tick text").filter(d => d === 0).attr("dy", "0.1em");

  // raw series
  const line = d3.line().x(d => x(d[0])).y(d => y(d[1]));
  g.append("path").datum(p.raw).attr("d", line).attr("fill", "none")
    .attr("stroke", "#b5b5b5").attr("stroke-width", 0.7);
  g.selectAll("circle.raw").data(p.raw).join("circle").attr("class", "raw")
    .attr("cx", d => x(d[0])).attr("cy", d => y(d[1])).attr("r", 1.1).attr("fill", "#333");
  // SG series
  g.append("path").datum(p.sg).attr("d", line).attr("fill", "none")
    .attr("stroke", "#000").attr("stroke-width", 2.4).attr("stroke-linejoin", "round");

  // panel title
  g.append("text").attr("x", p.tx).attr("y", p.ty).attr("font-size", 18).text(panelTitles[i]);

  // legend row
  const lg = g.append("g").attr("font-size", 18);
  const o = p.lo;
  lg.append("text").attr("x", p.lx).attr("y", p.ly).text("行：" + rowIds[i]);
  lg.append("text").attr("x", p.lx + o[0]).attr("y", p.ly).text("列：" + colIds[i]);
  lg.append("line").attr("x1", p.lx + o[1]).attr("x2", p.lx + o[2]).attr("y1", p.ly - 6).attr("y2", p.ly - 6)
    .attr("stroke", "#111").attr("stroke-width", 1);
  lg.append("circle").attr("cx", p.lx + (o[1] + o[2]) / 2).attr("cy", p.ly - 6).attr("r", 1.6).attr("fill", "#111");
  const rt = lg.append("text").attr("x", p.lx + o[3]).attr("y", p.ly);
  rt.append("tspan").text(rawName[0]);
  rt.append("tspan").attr("font-style", "italic").text(rawName[1]);
  rt.append("tspan").text(rawName[2]);
  lg.append("line").attr("x1", p.lx + o[4]).attr("x2", p.lx + o[5]).attr("y1", p.ly - 6).attr("y2", p.ly - 6)
    .attr("stroke", "#000").attr("stroke-width", 2.4);
  lg.append("text").attr("x", p.lx + o[6]).attr("y", p.ly).text(sgName);

  // axis titles
  g.append("text").attr("x", (p.x0 + p.x1) / 2).attr("y", p.xty).attr("text-anchor", "middle")
    .attr("font-size", 18).text(xTitle);
  g.append("text").attr("transform", `translate(${p.ytx},${p.yty}) rotate(-90)`)
    .attr("text-anchor", "middle").attr("font-size", 18).attr("font-style", "italic").text(yTitle);
});
</script>
</body></html>
